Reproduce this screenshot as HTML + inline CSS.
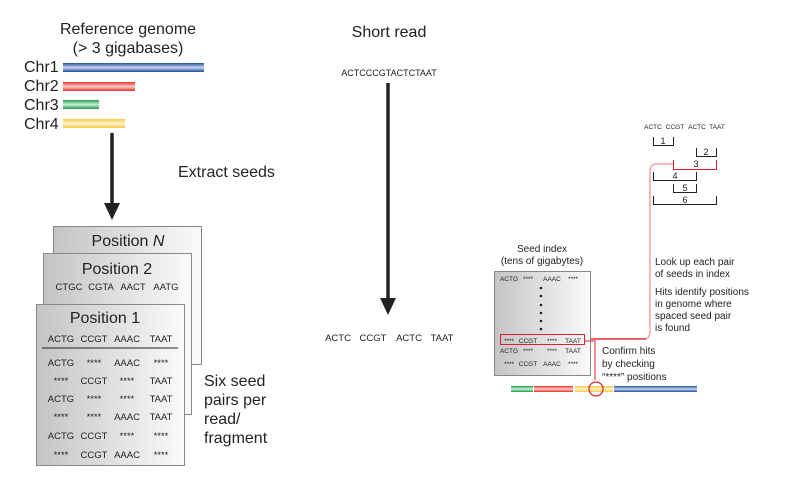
<!DOCTYPE html>
<html><head><meta charset="utf-8"><style>
html,body{margin:0;padding:0;background:#fff;}
svg{display:block;font-family:"Liberation Sans",Arial,sans-serif;}
text{white-space:pre;}
</style></head><body>
<svg width="785" height="485" viewBox="0 0 785 485" xmlns="http://www.w3.org/2000/svg" xml:space="preserve">
<defs>
<linearGradient id="bb" x1="0" y1="0" x2="0" y2="1"><stop offset="0" stop-color="#1f4f9e"/><stop offset="0.5" stop-color="#c9d6ee"/><stop offset="1" stop-color="#1f4f9e"/></linearGradient>
<linearGradient id="br" x1="0" y1="0" x2="0" y2="1"><stop offset="0" stop-color="#e8312a"/><stop offset="0.5" stop-color="#fbd0c6"/><stop offset="1" stop-color="#e8312a"/></linearGradient>
<linearGradient id="bg" x1="0" y1="0" x2="0" y2="1"><stop offset="0" stop-color="#1e9a4a"/><stop offset="0.5" stop-color="#cdeed8"/><stop offset="1" stop-color="#1e9a4a"/></linearGradient>
<linearGradient id="by" x1="0" y1="0" x2="0" y2="1"><stop offset="0" stop-color="#f5c842"/><stop offset="0.5" stop-color="#fff4cc"/><stop offset="1" stop-color="#f5c842"/></linearGradient>
<linearGradient id="box" x1="0" y1="0" x2="1" y2="0"><stop offset="0" stop-color="#c4c4c4"/><stop offset="1" stop-color="#fafafa"/></linearGradient>
</defs>

<text x="128" y="34" font-size="16" text-anchor="middle" fill="#222">Reference genome</text>
<text x="128" y="53" font-size="16" text-anchor="middle" fill="#222">(&gt; 3 gigabases)</text>
<g font-size="16" fill="#222">
<text x="24" y="72">Chr1</text><text x="24" y="91">Chr2</text><text x="24" y="110">Chr3</text><text x="24" y="129">Chr4</text>
</g>
<rect x="63" y="63" width="141" height="9" fill="url(#bb)"/>
<rect x="63" y="82" width="72" height="9" fill="url(#br)"/>
<rect x="63" y="100" width="36" height="9" fill="url(#bg)"/>
<rect x="63" y="119" width="62" height="9" fill="url(#by)"/>
<line x1="112" y1="133" x2="112" y2="205" stroke="#222" stroke-width="3.5"/>
<polygon points="104,203 120,203 112,220" fill="#222"/>
<text x="178" y="177" font-size="16" fill="#222">Extract seeds</text>

<rect x="53.5" y="226.5" width="148" height="138" fill="url(#box)" stroke="#888"/>
<text x="128" y="246" font-size="16" text-anchor="middle" fill="#222">Position <tspan font-style="italic">N</tspan></text>
<rect x="43.5" y="253.5" width="148" height="161" fill="url(#box)" stroke="#888"/>
<text x="117" y="274" font-size="16" text-anchor="middle" fill="#222">Position 2</text>
<g font-size="9.5" fill="#222" text-anchor="middle">
<text x="69" y="290">CTGC</text><text x="101" y="290">CGTA</text><text x="133" y="290">AACT</text><text x="166" y="290">AATG</text>
</g>
<rect x="36.5" y="304.5" width="148" height="161" fill="url(#box)" stroke="#888"/>
<text x="105" y="323" font-size="16" text-anchor="middle" fill="#222">Position 1</text>
<line x1="42" y1="348" x2="178" y2="348" stroke="#222" stroke-width="1"/>
<g font-size="9.5" fill="#222" text-anchor="middle">
<text x="61" y="342">ACTG</text><text x="94" y="342">CCGT</text><text x="127" y="342">AAAC</text><text x="161" y="342">TAAT</text>
<text x="61" y="366">ACTG</text><text x="94" y="366">****</text><text x="127" y="366">AAAC</text><text x="161" y="366">****</text>
<text x="61" y="384">****</text><text x="94" y="384">CCGT</text><text x="127" y="384">****</text><text x="161" y="384">TAAT</text>
<text x="61" y="402">ACTG</text><text x="94" y="402">****</text><text x="127" y="402">****</text><text x="161" y="402">TAAT</text>
<text x="61" y="420">****</text><text x="94" y="420">****</text><text x="127" y="420">AAAC</text><text x="161" y="420">TAAT</text>
<text x="61" y="439">ACTG</text><text x="94" y="439">CCGT</text><text x="127" y="439">****</text><text x="161" y="439">****</text>
<text x="61" y="458">****</text><text x="94" y="458">CCGT</text><text x="127" y="458">AAAC</text><text x="161" y="458">****</text>
</g>
<g font-size="16" fill="#222">
<text x="204" y="386">Six seed</text><text x="204" y="405">pairs per</text><text x="204" y="424">read/</text><text x="204" y="443">fragment</text>
</g>

<text x="389" y="37" font-size="16" text-anchor="middle" fill="#222">Short read</text>
<text x="389" y="76" font-size="9" text-anchor="middle" fill="#222">ACTCCCGTACTCTAAT</text>
<line x1="388" y1="83" x2="388" y2="300" stroke="#222" stroke-width="3.5"/>
<polygon points="380,298 396,298 388,315" fill="#222"/>
<g font-size="9.5" fill="#222" text-anchor="middle">
<text x="338" y="341">ACTC</text><text x="373" y="341">CCGT</text><text x="409" y="341">ACTC</text><text x="442" y="341">TAAT</text>
</g>

<g font-size="6.5" fill="#222" text-anchor="middle">
<text x="653" y="129">ACTC</text><text x="675" y="129">CCGT</text><text x="697" y="129">ACTC</text><text x="717" y="129">TAAT</text>
</g>
<g fill="none" stroke="#222" stroke-width="1">
<path d="M653.5,137 V145.5 H673.5 V137"/>
<path d="M696.5,148 V156.5 H716.5 V148"/>
<path d="M653.5,172 V180.5 H696.5 V172"/>
<path d="M673.5,184 V192.5 H696.5 V184"/>
<path d="M653.5,196 V204.5 H716.5 V196"/>
</g>
<path d="M673.5,160 V169.5 H716.5 V160" fill="none" stroke="#d9232a" stroke-width="1"/>
<g font-size="9" fill="#222" text-anchor="middle">
<text x="663" y="144">1</text><text x="706" y="155">2</text><text x="696" y="167">3</text><text x="675" y="179">4</text><text x="685" y="191">5</text><text x="685" y="203">6</text>
</g>
<path d="M673,164 H656 Q650,164 650,172 V331 Q650,339 644,339 H584" fill="none" stroke="#f4a3a6" stroke-width="1.5"/>
<line x1="584" y1="339" x2="646" y2="339" stroke="#e0202a" stroke-width="1.2"/>

<text x="542" y="252" font-size="10" text-anchor="middle" fill="#222">Seed index</text>
<text x="542" y="264" font-size="10" text-anchor="middle" fill="#222">(tens of gigabytes)</text>
<rect x="494.5" y="271.5" width="96" height="104" fill="url(#box)" stroke="#888"/>
<g font-size="6.5" fill="#222" text-anchor="middle">
<text x="509" y="281">ACTG</text><text x="528" y="281">****</text><text x="552" y="281">AAAC</text><text x="573" y="281">****</text>
<text x="509" y="343">****</text><text x="528" y="343">CCGT</text><text x="552" y="343">****</text><text x="573" y="343">TAAT</text>
<text x="509" y="353">ACTG</text><text x="528" y="353">****</text><text x="552" y="353">****</text><text x="573" y="353">TAAT</text>
<text x="509" y="366">****</text><text x="528" y="366">CCGT</text><text x="552" y="366">AAAC</text><text x="573" y="366">****</text>
</g>
<g fill="#222"><circle cx="541" cy="288" r="1.3"/><circle cx="541" cy="296" r="1.3"/><circle cx="541" cy="305" r="1.3"/><circle cx="541" cy="313" r="1.3"/><circle cx="541" cy="321" r="1.3"/><circle cx="541" cy="329" r="1.3"/></g>
<rect x="500.5" y="334.5" width="84" height="10" fill="none" stroke="#d9232a" stroke-width="1"/>
<path d="M584,341 H595 V380" fill="none" stroke="#d9232a" stroke-width="1"/>

<g font-size="10" fill="#222">
<text x="655" y="265">Look up each pair</text><text x="655" y="277">of seeds in index</text>
<text x="655" y="295">Hits identify positions</text><text x="655" y="307">in genome where</text><text x="655" y="319">spaced seed pair</text><text x="655" y="331">is found</text>
<text x="602" y="354">Confirm hits</text><text x="602" y="367">by checking</text><text x="602" y="380">“****” positions</text>
</g>

<rect x="511" y="386" width="22" height="6" fill="url(#bg)"/>
<rect x="534" y="386" width="39" height="6" fill="url(#br)"/>
<rect x="575" y="386" width="38" height="6" fill="url(#by)"/>
<rect x="614" y="386" width="83" height="6" fill="url(#bb)"/>
<circle cx="596" cy="389" r="7" fill="none" stroke="#d9232a" stroke-width="1.2"/>
</svg>
</body></html>
